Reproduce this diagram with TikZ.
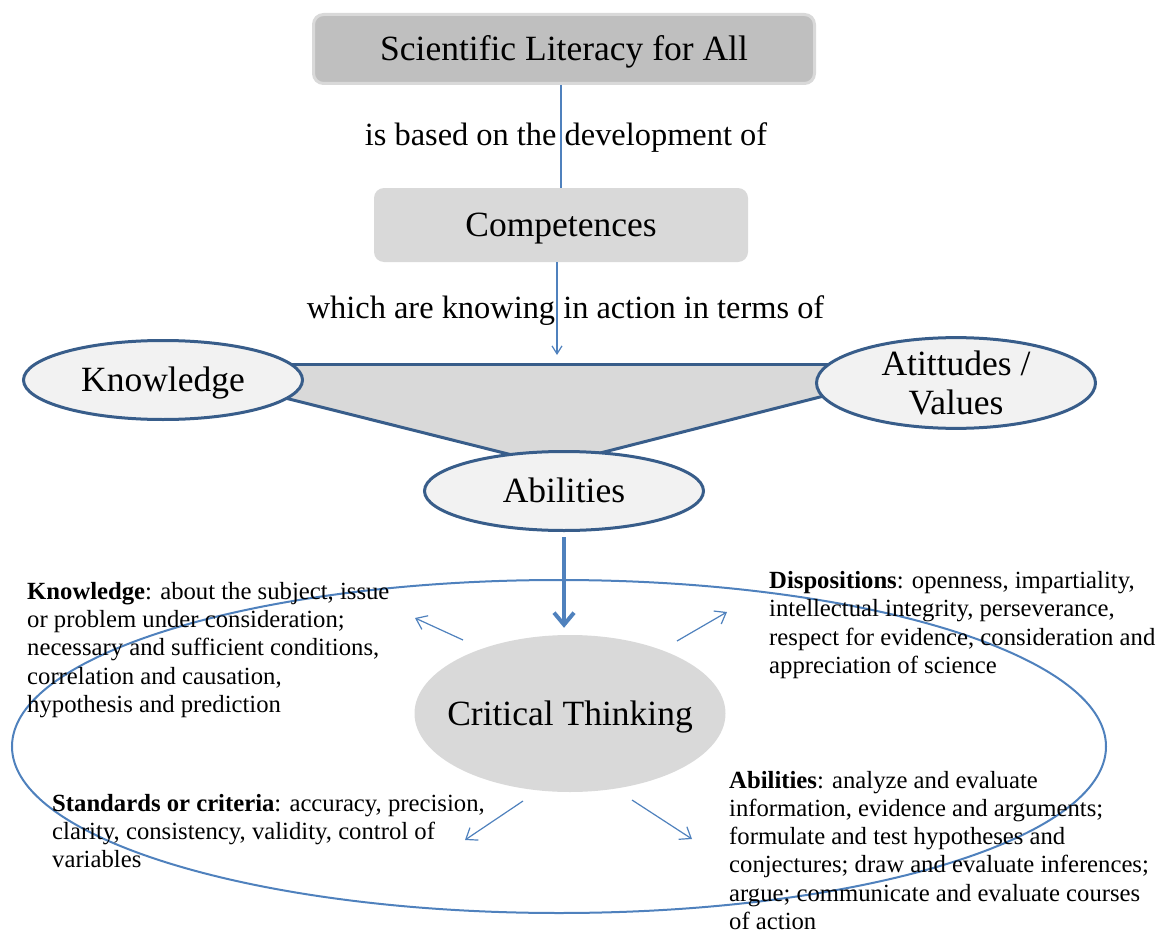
\documentclass[tikz,border=0pt]{standalone}
\usepackage{fontspec}
\setmainfont{Liberation Serif}
\usetikzlibrary{shapes.geometric,arrows.meta}
\definecolor{titlefill}{RGB}{191,191,191}
\definecolor{titleedge}{RGB}{217,217,217}
\definecolor{boxfill}{RGB}{217,217,217}
\definecolor{ellfill}{RGB}{242,242,242}
\definecolor{darkedge}{RGB}{56,93,138}
\definecolor{linkblue}{RGB}{79,129,189}
\begin{document}
\begin{tikzpicture}[x=1pt,y=-1pt,
  bigtext/.style={font=\fontsize{35.5}{39}\selectfont},
  labeltext/.style={font=\fontsize{32.4}{36}\selectfont, inner sep=0pt},
  smalltext/.style={font=\fontsize{24.7}{28.3}\selectfont, align=left, inner sep=0pt},
  centred/.style={text height=26.6pt, text depth=3.6pt},
  oval/.style={ellipse, draw=darkedge, line width=3pt, fill=ellfill, inner sep=0pt,
               minimum width=279pt, minimum height=79pt, bigtext},
  linkthin/.style={draw=linkblue, line width=1.2pt},
  thinarrow/.style={draw=linkblue, line width=1.2pt, -{Straight Barb[length=10pt,width=15pt]}},
  thickarrow/.style={draw=linkblue, line width=4pt, -{Straight Barb[length=12pt,width=20pt]}},
  triedge/.style={draw=darkedge, line width=3pt}
]
\useasboundingbox (0,0) rectangle (1163,934);

% triangle behind the three ovals
\fill[boxfill] (250,364) -- (860,364) -- (860,386.8) -- (590,455.6) -- (530,459.5) -- (250,389.2) -- cycle;
\draw[triedge] (250,364) -- (860,364);
\draw[triedge] (250,389.2) -- (530,459.5);
\draw[triedge] (860,386.8) -- (590,455.6);

% top boxes
\node[rectangle, rounded corners=10pt, fill=titlefill, draw=titleedge, line width=3pt,
      minimum width=501pt, minimum height=69pt, inner sep=0pt, bigtext, centred]
      (title) at (564,49) {Scientific Literacy for All};
\node[rectangle, rounded corners=10pt, fill=boxfill, minimum width=374pt,
      minimum height=74pt, inner sep=0pt, bigtext, centred]
      (comp) at (561,225) {Competences};

\node[labeltext, anchor=base] (lab1) at (566,146) {is based on the development of};
\node[labeltext, anchor=base] (lab2) at (565.5,318) {which are knowing in action in terms of};

\draw[linkthin] ([xshift=-3pt]title.south) -- ([xshift=-3pt]title.south |- comp.north);
\coordinate (c2end) at (557,355);
\draw[linkthin, -{Straight Barb[length=8pt,width=10pt]}] ([xshift=-4pt]comp.south) -- (c2end);

% ovals
\node[oval, centred] (know) at (163,380) {Knowledge};
\node[oval, minimum height=87pt, align=center] (atti) at (956,383) {Atittudes /\\Values};
\node[oval, centred] (abil) at (564,491) {Abilities};

% big outer ellipse and critical thinking
\node[ellipse, draw=linkblue, line width=2pt, minimum width=1094pt, minimum height=333pt,
      inner sep=0pt] (outer) at (559,746.5) {};
\node[ellipse, fill=boxfill, minimum width=311pt, minimum height=157pt, inner ysep=0pt,
      inner xsep=-16pt, bigtext, centred] (ct) at (570,713.5) {Critical Thinking};

\draw[thickarrow, shorten >=7pt] ([yshift=-5pt]abil.south) -- (abil.south |- ct.north);

% text blocks
\node[smalltext, anchor=north west] (tknow) at (27,579.2)
  {\strut\textbf{Knowledge}: about the subject, issue\\or problem under consideration;\\necessary and sufficient conditions,\\correlation and causation,\\hypothesis and prediction};
\node[smalltext, anchor=north west] (tdisp) at (769,568.5)
  {\strut\textbf{Dispositions}: openness, impartiality,\\intellectual integrity, perseverance,\\respect for evidence, consideration and\\appreciation of science};
\node[smalltext, anchor=north west] (tstan) at (52,791.2)
  {\strut\textbf{Standards or criteria}: accuracy, precision,\\clarity, consistency, validity, control of\\variables};
\node[smalltext, anchor=north west] (tabil) at (729,768)
  {\strut\textbf{Abilities}: analyze and evaluate\\information, evidence and arguments;\\formulate and test hypotheses and\\conjectures; draw and evaluate inferences;\\argue; communicate and evaluate courses\\of action};

% thin arrows
\coordinate (a1s) at (463,640); \coordinate (a1e) at (415,618);
\coordinate (a2s) at (677,641); \coordinate (a2e) at (727,612);
\coordinate (a3s) at (523,801); \coordinate (a3e) at (465,840);
\coordinate (a4s) at (632,800); \coordinate (a4e) at (692,839);
\draw[thinarrow] (a1s) -- (a1e);
\draw[thinarrow] (a2s) -- (a2e);
\draw[thinarrow] (a3s) -- (a3e);
\draw[thinarrow] (a4s) -- (a4e);
\end{tikzpicture}
\end{document}
